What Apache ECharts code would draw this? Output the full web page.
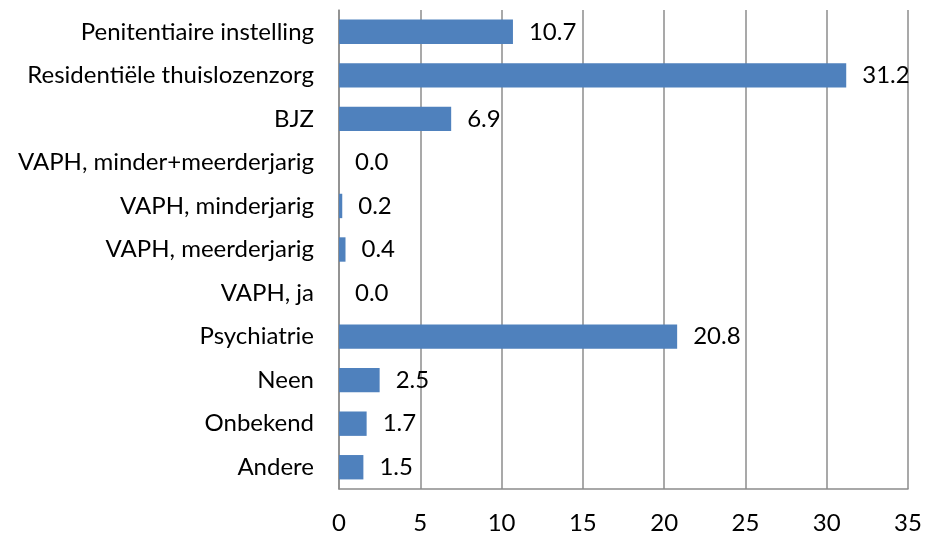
<!DOCTYPE html>
<html>
<head>
<meta charset="utf-8">
<script src="https://cdn.jsdelivr.net/npm/echarts@6/dist/echarts.min.js"></script>
<style>
  html, body { margin: 0; padding: 0; background: #fff; }
  #chart { width: 925px; height: 535px; }
</style>
</head>
<body>
<div id="chart"></div>
<script>
// categories from top to bottom, as in the picture
var categories = ['Penitentiaire instelling', 'Residentiële thuislozenzorg', 'BJZ',
  'VAPH, minder+meerderjarig', 'VAPH, minderjarig', 'VAPH, meerderjarig', 'VAPH, ja',
  'Psychiatrie', 'Neen', 'Onbekend', 'Andere'];
var values = [10.7, 31.2, 6.9, 0.0, 0.2, 0.4, 0.0, 20.8, 2.5, 1.7, 1.5];
var xTicks = [0, 5, 10, 15, 20, 25, 30, 35];

var fontName = 'Lato, "Open Sans", sans-serif';

const getOption = () => {
  return {
    animation: false,
    grid: { left: 339, right: 17, top: 10, bottom: 46, containLabel: false },
    xAxis: {
      type: 'value',
      min: xTicks[0],
      max: xTicks[xTicks.length - 1],
      interval: 5,
      axisLine: { show: true, lineStyle: { color: '#8c8c8c', width: 1.5 } },
      axisTick: { show: false },
      axisLabel: { color: '#000', fontFamily: fontName, fontSize: 24, margin: 22 },
      splitLine: { show: true, lineStyle: { color: '#8c8c8c', width: 1.5 } }
    },
    yAxis: {
      type: 'category',
      inverse: true,
      data: categories,
      axisLine: { show: true, lineStyle: { color: '#8c8c8c', width: 1.5 } },
      axisTick: { show: false },
      axisLabel: { color: '#000', fontFamily: fontName, fontSize: 24, margin: 25 }
    },
    series: [
      {
        type: 'bar',
        data: values,
        barCategoryGap: '44%',
        itemStyle: { color: '#4f81bd' },
        label: {
          show: true,
          position: 'right',
          distance: 16,
          color: '#000',
          fontFamily: fontName,
          fontSize: 24,
          formatter: function (p) { return p.value.toFixed(1); }
        }
      }
    ]
  };
};

const chart = echarts.init(document.getElementById('chart'));
chart.setOption(getOption());
</script>
</body>
</html>
